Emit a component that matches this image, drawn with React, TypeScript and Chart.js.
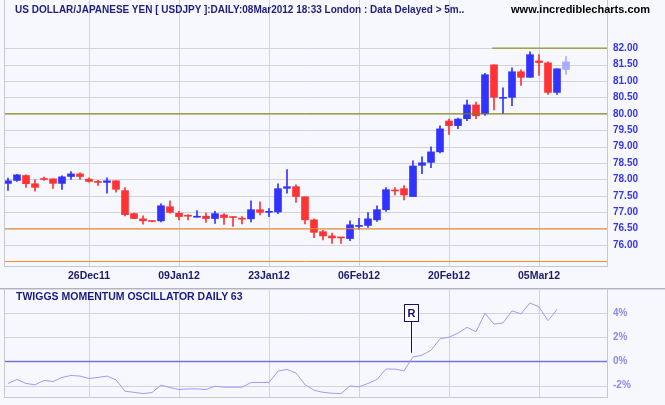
import React, { useEffect, useRef } from "react";
import { Chart, registerables } from "chart.js";

Chart.register(...registerables);

// ---------- data ----------
const tickIndices = [9, 19, 29, 39, 49, 59];
const tickLabels = ["26Dec11", "09Jan12", "23Jan12", "06Feb12", "20Feb12", "05Mar12"];

const opens = [
  77.88, 77.97, 78.12, 77.87, 78.01, 78.02, 77.88, 78.09, 78.17, 78.01,
  77.92, 77.91, 77.96, 77.66, 76.96, 76.8, 76.73, 76.74, 77.17, 76.97,
  76.89, 76.85, 76.88, 76.81, 76.92, 76.85, 76.8, 76.8, 77.08, 77.0,
  77.01, 77.73, 77.78, 77.47, 76.77, 76.41, 76.28, 76.23, 76.2, 76.57,
  76.6, 76.77, 77.08, 77.66, 77.72, 77.48, 78.43, 78.52, 78.84, 79.78,
  79.64, 79.85, 80.27, 80.0, 81.49, 80.47, 80.5, 81.28, 81.11, 81.61,
  81.55, 80.65, 81.35,
];
const highs = [
  78.04, 78.16, 78.14, 77.99, 78.07, 78.02, 78.11, 78.24, 78.2, 78.05,
  77.97, 78.05, 77.96, 77.75, 76.98, 76.89, 76.74, 77.26, 77.35, 77.03,
  76.92, 77.05, 76.98, 77.03, 76.96, 76.87, 76.87, 77.35, 77.32, 77.11,
  77.87, 78.3, 77.84, 77.47, 76.8, 76.45, 76.37, 76.24, 76.74, 76.82,
  76.99, 77.2, 77.75, 77.75, 77.81, 78.57, 78.69, 78.99, 79.63, 79.84,
  79.87, 80.42, 80.36, 81.23, 81.49, 80.79, 81.4, 81.34, 81.89, 81.8,
  81.58, 81.37, 81.74,
];
const lows = [
  77.67, 77.94, 77.76, 77.64, 77.97, 77.73, 77.7, 78.0, 78.0, 77.92,
  77.82, 77.58, 77.61, 76.89, 76.81, 76.64, 76.71, 76.71, 76.97, 76.77,
  76.77, 76.85, 76.69, 76.66, 76.63, 76.57, 76.65, 76.71, 76.92, 76.87,
  76.96, 77.58, 77.3, 76.65, 76.23, 76.16, 76.05, 76.05, 76.14, 76.49,
  76.54, 76.72, 77.03, 77.53, 77.38, 77.48, 78.18, 78.36, 78.81, 79.37,
  79.55, 79.79, 79.85, 79.95, 80.12, 80.0, 80.25, 80.86, 81.11, 81.17,
  80.59, 80.59, 81.2,
];
const closes = [
  77.96, 78.14, 77.87, 77.76, 78.0, 77.88, 78.08, 78.17, 78.09, 77.94,
  77.91, 77.96, 77.7, 76.93, 76.81, 76.74, 76.72, 77.2, 77.0, 76.87,
  76.88, 76.86, 76.81, 76.96, 76.84, 76.84, 76.79, 77.08, 77.0, 77.01,
  77.72, 77.78, 77.48, 76.77, 76.39, 76.28, 76.22, 76.22, 76.62, 76.58,
  76.8, 77.08, 77.69, 77.65, 77.53, 78.41, 78.51, 78.84, 79.54, 79.64,
  79.84, 80.27, 79.94, 81.19, 80.5, 80.49, 81.28, 81.11, 81.8, 81.56,
  80.65, 81.37, 81.58,
];

const momentum = [
  -1.83, -1.5, -1.83, -1.94, -1.58, -1.67, -1.33, -1.17, -1.22, -1.42,
  -1.33, -1.22, -1.53, -2.47, -2.56, -2.67, -2.58, -1.97, -2.17, -2.33,
  -2.28, -2.28, -2.33, -2.06, -2.14, -2.14, -2.14, -1.75, -1.75, -1.75,
  -0.81, -0.67, -0.97, -1.92, -2.39, -2.56, -2.64, -2.67, -2.03, -2.11,
  -1.83, -1.5, -0.64, -0.64, -0.78, 0.36, 0.5, 0.92, 1.86, 2.0,
  2.33, 2.81, 2.44, 3.97, 3.08, 3.17, 4.17, 3.92, 4.83, 4.5,
  3.36, 4.28, null,
];

const priceTicks = [76, 76.5, 77, 77.5, 78, 78.5, 79, 79.5, 80, 80.5, 81, 81.5, 82];
const oscTicks = [-2, 0, 2, 4];

const supportLevels = [80.0];
const resistanceLevel = 82.0;
const resistanceStart = 53.8;
const orangeLevels = [76.5, 75.5];

const rMarkerIndex = 44.8;
const rMarkerBoxTop = 4.71;
const rMarkerBoxBottom = 3.33;
const rMarkerLineEnd = 0.71;

// ---------- style ----------
const X_MIN = -0.444;
const X_MAX = 66.556;
const BG = "#f7f8fd";
const GRID = "#d3d3dd";
const BORDER = "#c8c8d2";
const ZERO = "#7474d4";
const UP = "#3333ff";
const DOWN = "#ff3333";
const LAST = "#a9a9ff";
const OLIVE = "#808000";
const ORANGE = "#f5891f";
const FONT = "'Liberation Sans', Arial, sans-serif";
const TRANSPARENT = "rgba(0,0,0,0)";

const candleColor = (i: number) =>
  i === closes.length - 1 ? LAST : closes[i] < opens[i] ? DOWN : UP;

// background, left border, vertical grid up to the top and horizontal grid from the scales' ticks
const panelPlugin = {
  id: "panel",
  beforeDraw(chart: any) {
    const { ctx, chartArea } = chart;
    ctx.save();
    ctx.fillStyle = BG;
    ctx.fillRect(chartArea.left, 0, chartArea.right - chartArea.left, chartArea.bottom);
    ctx.restore();
  },
  beforeDatasetsDraw(chart: any) {
    const { ctx, chartArea, scales } = chart;
    const y = scales.y;
    const x = scales.x;
    ctx.save();
    ctx.lineWidth = 1;
    ctx.strokeStyle = GRID;
    for (const t of x.ticks) {
      const px = Math.round(x.getPixelForValue(t.value)) + 0.5;
      ctx.beginPath();
      ctx.moveTo(px, 0);
      ctx.lineTo(px, chartArea.bottom);
      ctx.stroke();
    }
    for (const t of y.ticks) {
      const isZero = chart.config.options.zeroLine && t.value === 0;
      const py = Math.round(y.getPixelForValue(t.value)) + 0.5;
      ctx.strokeStyle = isZero ? ZERO : GRID;
      ctx.lineWidth = isZero ? 1.5 : 1;
      ctx.beginPath();
      ctx.moveTo(chartArea.left, py);
      ctx.lineTo(chartArea.right, py);
      ctx.stroke();
    }
    ctx.restore();
  },
  afterDraw(chart: any) {
    const { ctx, chartArea } = chart;
    ctx.save();
    ctx.strokeStyle = BORDER;
    ctx.lineWidth = 1;
    ctx.beginPath();
    ctx.moveTo(chartArea.left + 0.5, 0);
    ctx.lineTo(chartArea.left + 0.5, chartArea.bottom);
    ctx.moveTo(chartArea.right + 0.5, 0);
    ctx.lineTo(chartArea.right + 0.5, chartArea.bottom);
    ctx.stroke();
    ctx.restore();
  },
};

const rMarkerPlugin = {
  id: "rmarker",
  afterDatasetsDraw(chart: any) {
    const { ctx, scales } = chart;
    const x = Math.round(scales.x.getPixelForValue(rMarkerIndex)) + 0.5;
    const yTop = Math.round(scales.y.getPixelForValue(rMarkerBoxTop)) + 0.5;
    const yBot = Math.round(scales.y.getPixelForValue(rMarkerBoxBottom)) + 0.5;
    const yEnd = scales.y.getPixelForValue(rMarkerLineEnd);
    ctx.save();
    ctx.strokeStyle = "#10106e";
    ctx.lineWidth = 1;
    ctx.beginPath();
    ctx.moveTo(x, yBot);
    ctx.lineTo(x, yEnd);
    ctx.stroke();
    ctx.fillStyle = "#ffffff";
    ctx.fillRect(x - 7, yTop, 14, yBot - yTop);
    ctx.strokeRect(x - 7, yTop, 14, yBot - yTop);
    ctx.fillStyle = "#10106e";
    ctx.font = `bold 11px ${FONT}`;
    ctx.textAlign = "center";
    ctx.textBaseline = "middle";
    ctx.fillText("R", x, (yTop + yBot) / 2 + 0.5);
    ctx.restore();
  },
};

const hLine = (y: number, x0: number, x1: number, color: string, width = 1) => ({
  type: "line" as const,
  data: [
    { x: x0, y },
    { x: x1, y },
  ],
  borderColor: color,
  borderWidth: width,
  pointRadius: 0,
  fill: false,
  order: 0,
});

const xAxis = (height: number, showLabels: boolean) => ({
  type: "linear",
  min: X_MIN,
  max: X_MAX,
  offset: false,
  grid: { drawOnChartArea: false, drawTicks: false, offset: false },
  border: { display: true, color: BORDER },
  afterBuildTicks: (s: any) => {
    s.ticks = tickIndices.map((v) => ({ value: v }));
  },
  afterFit: (s: any) => {
    s.height = height;
  },
  ticks: {
    display: showLabels,
    autoSkip: false,
    maxRotation: 0,
    padding: 4,
    color: "#1a1a70",
    font: { family: FONT, weight: "bold", size: 10.5 },
    callback: (v: any) => {
      const k = tickIndices.indexOf(Number(v));
      return k >= 0 ? tickLabels[k] : "";
    },
  },
});

const yAxis = (min: number, max: number, ticks: number[], color: string, fmt: (v: number) => string) => ({
  type: "linear",
  position: "right",
  min,
  max,
  grid: { drawOnChartArea: false, drawTicks: true, tickLength: 6, tickColor: TRANSPARENT },
  border: { display: true, color: BORDER },
  afterBuildTicks: (s: any) => {
    s.ticks = ticks.map((v) => ({ value: v }));
  },
  afterFit: (s: any) => {
    s.width = 58;
  },
  ticks: {
    padding: 0,
    color,
    font: { family: FONT, weight: "bold", size: 10 },
    callback: (v: any) => fmt(Number(v)),
  },
});

export default function App() {
  const mainRef = useRef<HTMLCanvasElement>(null);
  const oscRef = useRef<HTMLCanvasElement>(null);

  useEffect(() => {
    document.body.style.margin = "0";
    const idx = opens.map((_, i) => i);

    const main = new Chart(mainRef.current as HTMLCanvasElement, {
      type: "bar",
      data: {
        datasets: [
          ...orangeLevels.map((v) => hLine(v, X_MIN, X_MAX, ORANGE)),
          ...supportLevels.map((v) => hLine(v, X_MIN, X_MAX, OLIVE)),
          hLine(resistanceLevel, resistanceStart, X_MAX, OLIVE),
          {
            type: "bar",
            data: idx.map((i) => ({ x: i, y: [lows[i], highs[i]] })),
            backgroundColor: (c: any) => candleColor(c.dataIndex),
            barThickness: 1,
            grouped: false,
            borderWidth: 0,
            order: 2,
          },
          {
            type: "bar",
            data: idx.map((i) => ({ x: i, y: [opens[i], closes[i]] })),
            backgroundColor: (c: any) => candleColor(c.dataIndex),
            barThickness: 7,
            minBarLength: 1,
            grouped: false,
            borderWidth: 0,
            order: 1,
          },
        ] as any,
      },
      options: {
        animation: false,
        responsive: false,
        devicePixelRatio: 1,
        events: [],
        layout: { padding: { left: 4, top: 6, right: 0, bottom: 0 } },
        plugins: { legend: { display: false }, tooltip: { enabled: false }, title: { display: false } },
        scales: {
          x: xAxis(22, true),
          y: yAxis(75.365, 83.282, priceTicks, "#3535e8", (v) => v.toFixed(2)),
        },
      } as any,
      plugins: [panelPlugin],
    });

    const osc = new Chart(oscRef.current as HTMLCanvasElement, {
      type: "line",
      data: {
        datasets: [
          {
            data: idx.map((i) => ({ x: i, y: momentum[i] })),
            borderColor: "#9c9cff",
            borderWidth: 1,
            pointRadius: 0,
            fill: false,
            spanGaps: false,
          },
        ] as any,
      },
      options: {
        animation: false,
        responsive: false,
        devicePixelRatio: 1,
        events: [],
        zeroLine: true,
        layout: { padding: { left: 4, top: 6, right: 0, bottom: 0 } },
        plugins: { legend: { display: false }, tooltip: { enabled: false } },
        scales: {
          x: xAxis(7.5, false),
          y: yAxis(-2.99, 5.4, oscTicks, "#8a8af0", (v) => `${v}%`),
        },
      } as any,
      plugins: [panelPlugin, rMarkerPlugin],
    });

    return () => {
      main.destroy();
      osc.destroy();
    };
  }, []);

  const textBase: React.CSSProperties = {
    position: "absolute",
    fontFamily: FONT,
    fontWeight: "bold",
    whiteSpace: "nowrap",
    pointerEvents: "none",
  };

  return (
    <div style={{ position: "relative", width: 665, height: 405, background: BG, overflow: "hidden" }}>
      <canvas ref={mainRef} width={665} height={288} style={{ position: "absolute", left: 0, top: 0 }} />
      <div style={{ position: "absolute", left: 0, top: 288, width: 665, height: 1, background: "#b4b4bc" }} />
      <div style={{ position: "absolute", left: 0, top: 289, width: 665, height: 1, background: "#d8d8e0" }} />
      <canvas ref={oscRef} width={665} height={115} style={{ position: "absolute", left: 0, top: 290 }} />
      <div style={{ ...textBase, left: 15, top: 5, fontSize: 10, lineHeight: "10px", color: "#1e1e7a" }}>
        US DOLLAR/JAPANESE YEN [ USDJPY ]:DAILY:08Mar2012 18:33 London : Data Delayed &gt; 5m..
      </div>
      <div style={{ ...textBase, right: 15, top: 4, fontSize: 11, lineHeight: "11px", color: "#000000" }}>
        www.incrediblecharts.com
      </div>
      <div style={{ ...textBase, left: 16, top: 291, fontSize: 10.5, lineHeight: "10px", color: "#1a1a80" }}>
        TWIGGS MOMENTUM OSCILLATOR DAILY 63
      </div>
    </div>
  );
}
